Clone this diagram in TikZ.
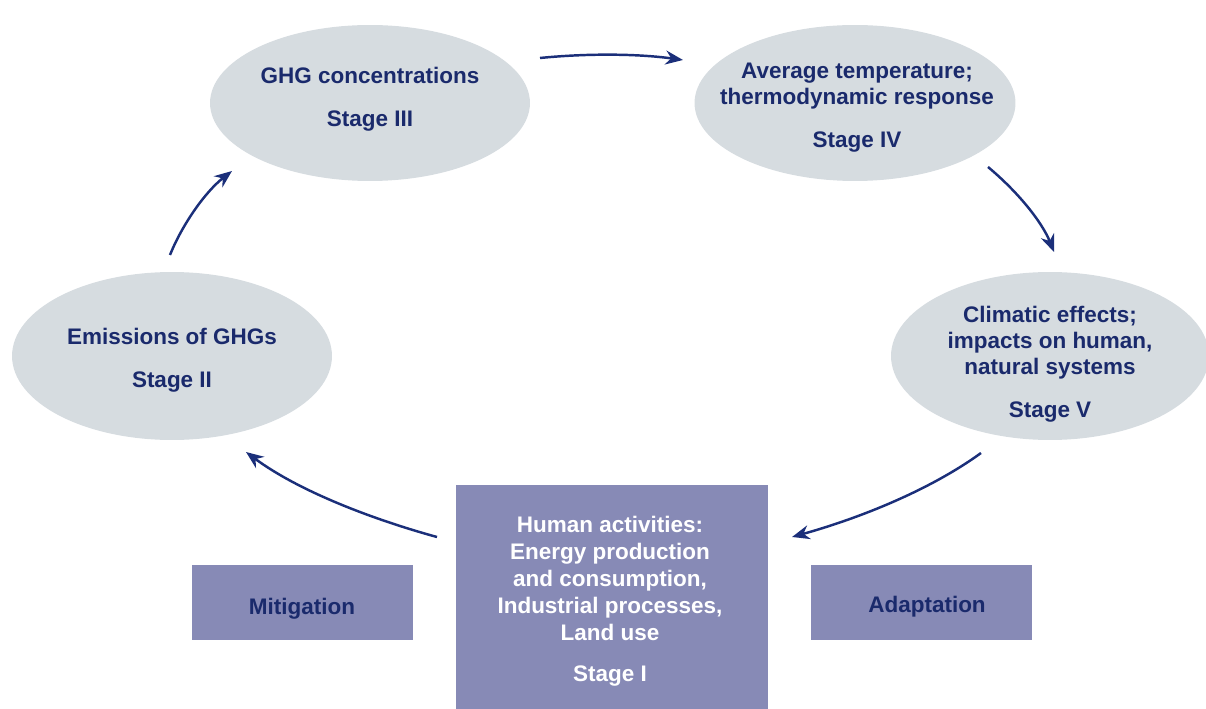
\documentclass[tikz,border=0pt]{standalone}
\usepackage{fontspec}
\setmainfont{Liberation Sans}
\usetikzlibrary{shapes.geometric,arrows.meta}
\definecolor{ellfill}{HTML}{D6DCE0}
\definecolor{boxfill}{HTML}{878AB6}
\definecolor{navy}{HTML}{1A2A6C}
\definecolor{arrowc}{HTML}{1B2F7A}
\tikzset{
  stageell/.style={ellipse, fill=ellfill, inner sep=0pt},
  stagetext/.style={inner sep=0pt, text=navy, font=\fontsize{12.8}{14.8}\selectfont\bfseries, align=center},
  stagebox/.style={rectangle, fill=boxfill, inner sep=0pt},
  boxtext/.style={inner sep=0pt, text=white, font=\fontsize{12.8}{15.3}\selectfont\bfseries, align=center},
  sidebox/.style={rectangle, fill=boxfill, inner sep=0pt, minimum width=4.42cm, minimum height=1.5cm},
  flow/.style={draw=arrowc, line width=1.4pt, -{Stealth[length=10pt,width=8pt]}}
}
\begin{document}
\begin{tikzpicture}[x=0.02cm,y=-0.02cm]
\useasboundingbox (0,0) rectangle (1206,709);
\node[stageell, minimum width=6.4cm, minimum height=3.12cm] (s3) at (370,103) {};
\node[stagetext] (t3) at (370,99) {GHG concentrations\\[0.34cm]Stage III};
\node[stageell, minimum width=6.42cm, minimum height=3.12cm] (s4) at (855,103) {};
\node[stagetext] (t4) at (857,108) {Average temperature;\\thermodynamic response\\[0.34cm]Stage IV};
\node[stageell, minimum width=6.4cm, minimum height=3.36cm] (s2) at (172,356) {};
\node[stagetext] (t2) at (172,360) {Emissions of GHGs\\[0.34cm]Stage II};
\node[stageell, minimum width=6.36cm, minimum height=3.36cm] (s5) at (1050,356) {};
\node[stagetext] (t5) at (1050,364) {Climatic effects;\\impacts on human,\\natural systems\\[0.34cm]Stage V};
\node[stagebox, minimum width=6.24cm, minimum height=4.48cm] (s1) at (612,597) {};
\node[boxtext] (t1) at (610,601.5) {Human activities:\\Energy production\\and consumption,\\Industrial processes,\\Land use\\[0.3cm]Stage I};
\node[sidebox] (mit) at (302.5,602.5) {};
\node[stagetext] (tm) at (302,609) {Mitigation};
\node[sidebox] (ada) at (921.5,602.5) {};
\node[stagetext] (ta) at (927,607) {Adaptation};
\coordinate (a1s) at (540,58);
\coordinate (a1e) at (683,60);
\coordinate (a2s) at (988,167);
\coordinate (a2e) at (1054,252);
\coordinate (a3s) at (981,453);
\coordinate (a3e) at (792,537);
\coordinate (a4s) at (437,537);
\coordinate (a4e) at (246,452);
\coordinate (a5s) at (170,255);
\coordinate (a5e) at (232,171);
\draw[flow] (a1s) .. controls (590,53) and (640,54) .. (a1e);
\draw[flow] (a2s) .. controls (1018,192) and (1042,222) .. (a2e);
\draw[flow] (a3s) .. controls (930,490) and (860,518) .. (a3e);
\draw[flow] (a4s) .. controls (375,520) and (300,492) .. (a4e);
\draw[flow] (a5s) .. controls (182,225) and (205,192) .. (a5e);
\end{tikzpicture}
\end{document}
